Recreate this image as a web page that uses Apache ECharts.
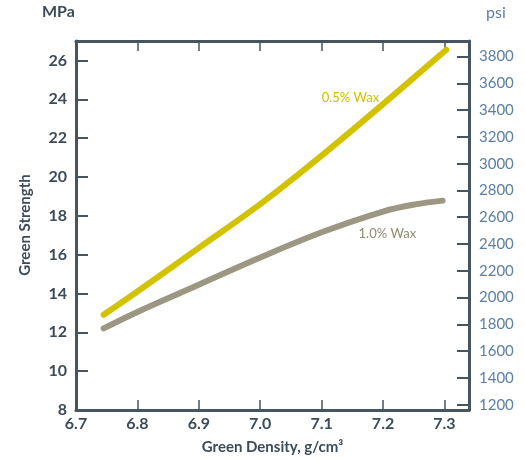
<!DOCTYPE html>
<html>
<head>
<meta charset="utf-8">
<script src="https://cdn.jsdelivr.net/npm/echarts@6/dist/echarts.min.js"></script>
<style>
html,body{margin:0;padding:0;background:#fff;}
#chart{width:525px;height:461px;}
</style>
</head>
<body>
<div id="chart"></div>
<script>
// Data
var densityWax05 = [6.745, 6.8, 6.9, 7.0, 7.1, 7.2, 7.303];
var strengthWax05 = [12.9, 14.1, 16.35, 18.6, 21.1, 23.75, 26.55];
var densityWax10 = [6.745, 6.8, 6.9, 7.0, 7.1, 7.2, 7.255, 7.297];
var strengthWax10 = [12.2, 13.05, 14.45, 15.85, 17.15, 18.22, 18.6, 18.78];
var xTicks = [6.7, 6.8, 6.9, 7.0, 7.1, 7.2, 7.3];
var mpaTicks = [8, 10, 12, 14, 16, 18, 20, 22, 24, 26];
var psiTicks = [1200, 1400, 1600, 1800, 2000, 2200, 2400, 2600, 2800, 3000, 3200, 3400, 3600, 3800];
var seriesNames = ['0.5% Wax', '1.0% Wax'];
var labelPos05 = [7.147, 24.07];
var labelPos10 = [7.207, 17.09];

var MPA_TO_PSI = 145.038;
var mpaMin = 8, mpaMax = 27;
var xMin = 6.7, xMax = 7.34;

function pairs(xs, ys) { return xs.map(function (x, i) { return [x, ys[i]]; }); }

var axisColor = '#46555f';
var textDark = '#3b4b5a';
var textBlue = '#5b7fa6';
var font = 'Lato, "Open Sans", sans-serif';

function seriesLabel(text, pos, color) {
  return {
    symbol: 'circle', symbolSize: 1, silent: true,
    itemStyle: {color: 'rgba(0,0,0,0)'},
    label: {show: true, position: 'inside', formatter: text, color: color, fontSize: 13, fontFamily: font},
    data: [{coord: pos}]
  };
}

var chart = echarts.init(document.getElementById('chart'), null, {renderer: 'canvas'});
chart.setOption({
  animation: false,
  backgroundColor: '#ffffff',
  grid: {left: 76, right: 56, top: 41, bottom: 51, containLabel: false},
  xAxis: [{
    type: 'value', min: xMin, max: xMax, position: 'bottom',
    name: 'Green Density, g/cm³', nameLocation: 'middle', nameGap: 30,
    nameTextStyle: {color: textDark, fontSize: 15, fontFamily: font, fontWeight: 'bold'},
    splitLine: {show: false},
    axisLine: {show: true, lineStyle: {color: axisColor, width: 3}},
    axisTick: {show: true, inside: true, length: 10, customValues: xTicks, lineStyle: {color: axisColor, width: 1.5}},
    axisLabel: {customValues: xTicks, color: textDark, fontSize: 16, fontFamily: font, fontWeight: 'bold', margin: 6,
      formatter: function (v) { return v.toFixed(1); }}
  }, {
    type: 'value', min: xMin, max: xMax, position: 'top',
    splitLine: {show: false},
    axisLine: {show: true, lineStyle: {color: axisColor, width: 3}},
    axisTick: {show: true, inside: true, length: 10, customValues: xTicks, lineStyle: {color: axisColor, width: 1.5}},
    axisLabel: {show: false}
  }],
  yAxis: [{
    type: 'value', min: mpaMin, max: mpaMax, position: 'left',
    splitLine: {show: false},
    axisLine: {show: true, lineStyle: {color: axisColor, width: 3}},
    axisTick: {show: true, inside: true, length: 12, customValues: mpaTicks, lineStyle: {color: axisColor, width: 2}},
    axisLabel: {customValues: mpaTicks, color: textDark, fontSize: 16, fontFamily: font, fontWeight: 'bold', margin: 9}
  }, {
    type: 'value', min: mpaMin * MPA_TO_PSI, max: mpaMax * MPA_TO_PSI, position: 'right',
    splitLine: {show: false},
    axisLine: {show: true, lineStyle: {color: axisColor, width: 3}},
    axisTick: {show: true, inside: true, length: 12, customValues: psiTicks, lineStyle: {color: axisColor, width: 2}},
    axisLabel: {customValues: psiTicks, color: textBlue, fontSize: 15, fontFamily: font, margin: 10,
      formatter: function (v) { return String(Math.round(v)); }}
  }],
  graphic: [
    {type: 'text', left: 42, top: 4, style: {text: 'MPa', fill: textDark, font: 'bold 16px ' + font}},
    {type: 'text', left: 486, top: 5, style: {text: 'psi', fill: textBlue, font: '16px ' + font}},
    {type: 'text', x: 18, y: 225, rotation: Math.PI / 2, originX: 0, originY: 0,
     style: {text: 'Green Strength', fill: textDark, font: 'bold 15px ' + font, align: 'center', verticalAlign: 'top'}}
  ],
  series: [{
    name: seriesNames[0], type: 'line', xAxisIndex: 0, yAxisIndex: 0,
    data: pairs(densityWax05, strengthWax05), smooth: 0.35, showSymbol: false, symbol: 'none',
    lineStyle: {color: '#d2c200', width: 6, cap: 'round'},
    markPoint: seriesLabel(seriesNames[0], labelPos05, '#cdbf00')
  }, {
    name: seriesNames[1], type: 'line', xAxisIndex: 0, yAxisIndex: 0,
    data: pairs(densityWax10, strengthWax10), smooth: 0.35, showSymbol: false, symbol: 'none',
    lineStyle: {color: '#9b9782', width: 6, cap: 'round'},
    markPoint: seriesLabel(seriesNames[1], labelPos10, '#8f8a72')
  }]
});
</script>
</body>
</html>
